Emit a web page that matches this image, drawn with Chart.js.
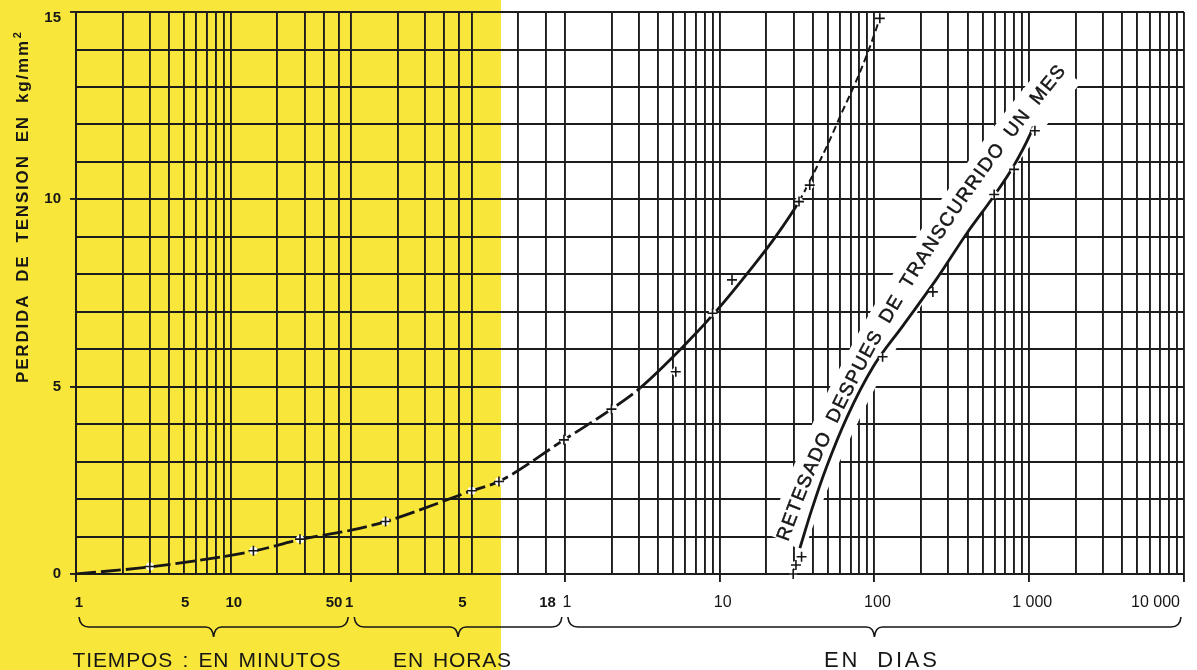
<!DOCTYPE html>
<html>
<head>
<meta charset="utf-8">
<script src="https://cdn.jsdelivr.net/npm/chart.js@4.4.1/dist/chart.umd.min.js"></script>
<style>
  html, body { margin: 0; padding: 0; background: #fff; }
  #wrap { width: 1197px; height: 670px; }
</style>
</head>
<body>
<div id="wrap"><canvas id="c" width="1197" height="670"></canvas></div>
<script>
// Time runs on one continuous logarithmic axis measured in minutes.
const MIN_PER_HOUR = 60;
const MIN_PER_DAY = 1440;

// Grid lines of each time band, in that band's own unit
const minuteGrid = [1, 2, 3, 4, 5, 6, 7, 8, 9, 10, 20, 30, 40, 50];
const hourGrid = [1, 2, 3, 4, 5, 6, 12, 18];
const dayGrid = [1, 2, 3, 4, 5, 6, 7, 8, 9,
                 10, 20, 30, 40, 50, 60, 70, 80, 90,
                 100, 200, 300, 400, 500, 600, 700, 800, 900,
                 1000, 2000, 3000, 4000, 5000, 6000, 7000, 8000, 9000, 10000];

// Tick labels of each band
const minuteLabels = [1, 5, 10, 50];
const hourLabels = [1, 5, 18];
const dayLabels = [1, 10, 100, 1000, 10000];
const dayLabelText = ['1', '10', '100', '1 000', '10 000'];
const lossLabels = [0, 5, 10, 15];

// Band limits (minutes) and their titles
const bandLimits = [1, 60, 1440, 14400000];
const bandTitles = ['TIEMPOS : EN MINUTOS', 'EN HORAS', 'EN DIAS'];

const yTitle = 'PERDIDA DE TENSION EN kg/mm';
const yTitleSup = '2';
const curveNote = 'RETESADO DESPUES DE TRANSCURRIDO UN MES';

// Fitted relaxation curve: time (minutes) / loss (kg/mm²)
const curveTime = [1, 3, 14, 28, 60, 100, 360, 540, 1420, 2880, 4400, 8380, 14450,
                   22600, 31900, 46900, 55200, 70700, 90100, 110400, 134600, 156300];
const curveLoss = [0, 0.19, 0.61, 0.92, 1.17, 1.40, 2.22, 2.47, 3.58, 4.40, 4.96, 6.07, 7.13,
                   8.11, 8.91, 9.94, 10.50, 11.40, 12.38, 13.18, 14.07, 14.84];

// Measured points of that curve
const measuredTime = [3, 14, 28, 100, 360, 540, 1420, 2880, 7500, 12960, 17300, 46900, 55000, 156000];
const measuredLoss = [0.2, 0.62, 0.93, 1.40, 2.22, 2.47, 3.58, 4.40, 5.40, 6.96, 7.85, 9.94, 10.38, 14.83];

// Curve after re-tensioning one month later
const retensionTime = [47500, 56600, 70700, 96100, 141300, 220300, 359500, 568500,
                       845000, 1135000, 1455000, 1528000];
const retensionLoss = [0.69, 1.71, 2.86, 4.20, 5.53, 6.63, 7.85, 9.09,
                       10.07, 10.87, 11.72, 11.94];
const retensionMeasuredTime = [43000, 44800, 48700, 162600, 343600, 855000, 1150000, 1567000];
const retensionMeasuredLoss = [0, 0.24, 0.46, 5.8, 7.53, 10.13, 10.8, 11.83];

// ---------------------------------------------------------------------------
const INK = '#161616';
const GRID = '#1c1c1c';
const YELLOW = '#f8e63a';
const FONT = '"Liberation Sans", Arial, Helvetica, sans-serif';
const NARROW = '"Liberation Sans Narrow", "Liberation Sans", Arial, sans-serif';

const pts = (xs, ys) => xs.map((x, i) => ({ x, y: ys[i] }));

const gridMinutes = Array.from(new Set([
  ...minuteGrid,
  ...hourGrid.map(h => h * MIN_PER_HOUR),
  ...dayGrid.map(d => d * MIN_PER_DAY)
])).sort((a, b) => a - b);

const tickMarkSet = new Set([1, MIN_PER_HOUR, ...dayLabels.map(d => d * MIN_PER_DAY)]);
const lossLabelSet = new Set(lossLabels);

// Draw text spread to a given width; spaces take a larger share of the slack
function drawSpaced(ctx, text, x, y, width) {
  const chars = [...text];
  const w = chars.map(c => ctx.measureText(c).width);
  const natural = w.reduce((a, b) => a + b, 0);
  const spaces = chars.filter(c => c === ' ').length;
  const unit = (width - natural) / (chars.length - 1 + 3 * spaces);
  let cx = x;
  ctx.textAlign = 'left';
  chars.forEach((c, i) => {
    if (c !== ' ') ctx.fillText(c, cx, y);
    cx += w[i] + unit + (c === ' ' ? 3 * unit : 0);
  });
  return cx;
}

// Paper: white sheet with a yellow highlighter stripe over the left part
const paperPlugin = {
  id: 'paper',
  beforeDraw(chart) {
    const ctx = chart.ctx;
    ctx.save();
    ctx.fillStyle = '#ffffff';
    ctx.fillRect(0, 0, chart.width, chart.height);
    ctx.fillStyle = YELLOW;
    ctx.fillRect(0, 0, 501, chart.height);
    ctx.restore();
  }
};

// Note written along the re-tensioning curve, on a white strip over the grid
const curveNotePlugin = {
  id: 'curveNote',
  beforeDatasetsDraw(chart) {
    const { ctx, scales: { x, y } } = chart;
    const anchor = (t, v) => ({ x: x.getPixelForValue(t), y: y.getPixelForValue(v) });
    const p0 = anchor(37000, 0.9);
    const p1 = anchor(128000, 7.2);
    const p2 = anchor(2350000, 13.5);
    const N = 240;
    const path = [];
    for (let i = 0; i <= N; i++) {
      const t = i / N, a = (1 - t) * (1 - t), b = 2 * (1 - t) * t, c = t * t;
      path.push({ x: a * p0.x + b * p1.x + c * p2.x, y: a * p0.y + b * p1.y + c * p2.y });
    }
    const cum = [0];
    for (let i = 1; i <= N; i++) {
      cum.push(cum[i - 1] + Math.hypot(path[i].x - path[i - 1].x, path[i].y - path[i - 1].y));
    }
    const L = cum[N];
    const at = s => {
      let i = 1;
      while (i < N && cum[i] < s) i++;
      const f = (s - cum[i - 1]) / (cum[i] - cum[i - 1] || 1);
      const a = path[i - 1], b = path[i];
      return { x: a.x + (b.x - a.x) * f, y: a.y + (b.y - a.y) * f, ang: Math.atan2(b.y - a.y, b.x - a.x) };
    };

    // white strip: one pass under the letters, one reaching down to the curve
    ctx.save();
    ctx.strokeStyle = '#ffffff';
    ctx.lineCap = 'butt';
    [[0, 0, 34], [7, 5, 30]].forEach(([dx, dy, lw]) => {
      ctx.beginPath();
      ctx.moveTo(p0.x + dx, p0.y + dy);
      ctx.quadraticCurveTo(p1.x + dx, p1.y + dy, p2.x + dx, p2.y + dy);
      ctx.lineWidth = lw;
      ctx.stroke();
    });

    ctx.font = '19px ' + FONT;
    ctx.fillStyle = INK;
    ctx.strokeStyle = INK;
    ctx.lineWidth = 0.5;
    ctx.textAlign = 'center';
    ctx.textBaseline = 'middle';
    const chars = [...curveNote];
    const w = chars.map(c => ctx.measureText(c).width);
    const natural = w.reduce((a, b) => a + b, 0);
    const spaces = chars.filter(c => c === ' ').length;
    const unit = (L - natural) / (chars.length - 1 + 3 * spaces);
    let s = 0;
    chars.forEach((c, i) => {
      const extra = c === ' ' ? 3 * unit : 0;
      if (c !== ' ') {
        const p = at(s + w[i] / 2);
        ctx.save();
        ctx.translate(p.x, p.y);
        ctx.rotate(p.ang);
        ctx.fillText(c, 0, 0);
        ctx.strokeText(c, 0, 0);
        ctx.restore();
      }
      s += w[i] + unit + extra;
    });
    ctx.restore();
  }
};

// Axis labels, time bands with their braces, and the vertical title
const annotationPlugin = {
  id: 'annotations',
  afterDraw(chart) {
    const { ctx, chartArea: area, scales: { x, y } } = chart;
    ctx.save();
    ctx.fillStyle = INK;
    ctx.strokeStyle = INK;

    // loss tick labels
    ctx.font = 'bold 15px ' + FONT;
    ctx.textAlign = 'right';
    ctx.textBaseline = 'middle';
    lossLabels.forEach(v => {
      const py = y.getPixelForValue(v) + (v === 15 ? 6 : 0);
      ctx.fillText(String(v), area.left - 15, py);
    });

    // time tick labels
    const ly = area.bottom + 29;
    const put = (text, px) => {
      const tw = ctx.measureText(text).width;
      const cx = Math.min(px, area.right - 4 - tw / 2);
      ctx.fillText(text, cx, ly);
    };
    ctx.textAlign = 'center';
    ctx.font = 'bold 15px ' + FONT;
    const minuteNudge = { 1: 3, 5: 1, 10: 3, 50: -5 };
    minuteLabels.forEach(m => put(String(m), x.getPixelForValue(m) + (minuteNudge[m] || 0)));
    const hourNudge = { 1: -2, 5: 3, 18: 2 };
    hourLabels.forEach(h => put(String(h), x.getPixelForValue(h * MIN_PER_HOUR) + (hourNudge[h] || 0)));
    ctx.font = '16px ' + NARROW;
    dayLabels.forEach((d, i) => put(dayLabelText[i], x.getPixelForValue(d * MIN_PER_DAY) + (i === 0 ? 2 : 3)));

    // braces under each band
    const yTop = area.bottom + 43, yLine = area.bottom + 53, yTip = area.bottom + 63;
    ctx.lineWidth = 1.6;
    const mids = [];
    for (let i = 0; i < bandTitles.length; i++) {
      const x0 = x.getPixelForValue(bandLimits[i]) + 3;
      const x1 = x.getPixelForValue(bandLimits[i + 1]) - 3;
      const xm = (x0 + x1) / 2;
      mids.push(xm);
      ctx.beginPath();
      ctx.moveTo(x0, yTop);
      ctx.quadraticCurveTo(x0 + 1, yLine, x0 + 10, yLine);
      ctx.lineTo(xm - 8, yLine);
      ctx.quadraticCurveTo(xm - 1, yLine, xm, yTip);
      ctx.quadraticCurveTo(xm + 1, yLine, xm + 8, yLine);
      ctx.lineTo(x1 - 10, yLine);
      ctx.quadraticCurveTo(x1 - 1, yLine, x1, yTop);
      ctx.stroke();
    }

    // band titles
    ctx.textBaseline = 'alphabetic';
    const titleW = [268, 118, 113];
    const titleShift = [-7, -6, 6];
    const titleFont = ['21px ' + FONT, '21px ' + FONT, '22px ' + NARROW];
    bandTitles.forEach((t, i) => {
      ctx.font = titleFont[i];
      const cx = mids[i] + titleShift[i];
      drawSpaced(ctx, t, cx - titleW[i] / 2, 667, titleW[i]);
    });

    // vertical title with superscript
    ctx.save();
    ctx.translate(28, 383);
    ctx.rotate(-Math.PI / 2);
    ctx.font = 'bold 17px ' + FONT;
    const end = drawSpaced(ctx, yTitle, 0, 0, 342);
    ctx.font = 'bold 11px ' + FONT;
    ctx.fillText(yTitleSup, end + 1, -7);
    ctx.restore();

    ctx.restore();
  }
};

new Chart(document.getElementById('c'), {
  type: 'scatter',
  data: {
    datasets: [
      {
        label: 'medidas',
        data: pts(measuredTime, measuredLoss),
        pointStyle: 'cross', pointRadius: 5, pointBorderWidth: 1.6,
        pointBorderColor: INK, showLine: false, clip: 10
      },
      {
        label: 'medidas tras retesado',
        data: pts(retensionMeasuredTime, retensionMeasuredLoss),
        pointStyle: 'cross', pointRadius: 5, pointBorderWidth: 1.6,
        pointBorderColor: INK, showLine: false, clip: 10
      },
      {
        label: 'halo',
        data: pts(measuredTime, measuredLoss),
        pointStyle: 'circle', pointRadius: 4, pointBorderWidth: 0,
        pointBackgroundColor: '#ffffff', showLine: false
      },
      {
        label: 'halo tras retesado',
        data: pts(retensionMeasuredTime, retensionMeasuredLoss),
        pointStyle: 'circle', pointRadius: 4, pointBorderWidth: 0,
        pointBackgroundColor: '#ffffff', showLine: false, clip: 10
      },
      {
        label: 'pérdida',
        data: pts(curveTime, curveLoss),
        showLine: true, pointRadius: 0, borderColor: INK, borderWidth: 2.8,
        cubicInterpolationMode: 'monotone',
        segment: {
          borderDash: c => c.p0.parsed.x < 4400 ? [20, 5] : (c.p0.parsed.x >= 46900 ? [7, 4] : []),
          borderWidth: c => c.p0.parsed.x >= 46900 ? 2 : 2.8
        }
      },
      {
        label: 'retesado',
        data: pts(retensionTime, retensionLoss),
        showLine: true, pointRadius: 0, borderColor: INK, borderWidth: 2.8,
        cubicInterpolationMode: 'monotone'
      }
    ]
  },
  options: {
    responsive: false,
    animation: false,
    devicePixelRatio: 1,
    layout: { padding: { left: 70, right: 13, top: 12, bottom: 88 } },
    plugins: { legend: { display: false }, tooltip: { enabled: false } },
    scales: {
      x: {
        type: 'logarithmic',
        min: bandLimits[0],
        max: bandLimits[bandLimits.length - 1],
        afterBuildTicks: s => { s.ticks = gridMinutes.map(v => ({ value: v })); },
        ticks: { display: false },
        grid: {
          color: GRID, lineWidth: 1.9, drawTicks: true, tickLength: 8, tickWidth: 1.9,
          tickColor: c => (c.tick && tickMarkSet.has(c.tick.value)) ? GRID : 'rgba(0,0,0,0)'
        },
        border: { display: true, color: GRID, width: 2 }
      },
      y: {
        min: 0,
        max: 15,
        ticks: { display: false, stepSize: 1 },
        grid: {
          color: GRID, lineWidth: 1.9, drawTicks: true, tickLength: 6, tickWidth: 1.9,
          tickColor: c => (c.tick && lossLabelSet.has(c.tick.value)) ? GRID : 'rgba(0,0,0,0)'
        },
        border: { display: true, color: GRID, width: 2 }
      }
    }
  },
  plugins: [paperPlugin, curveNotePlugin, annotationPlugin]
});
</script>
</body>
</html>
